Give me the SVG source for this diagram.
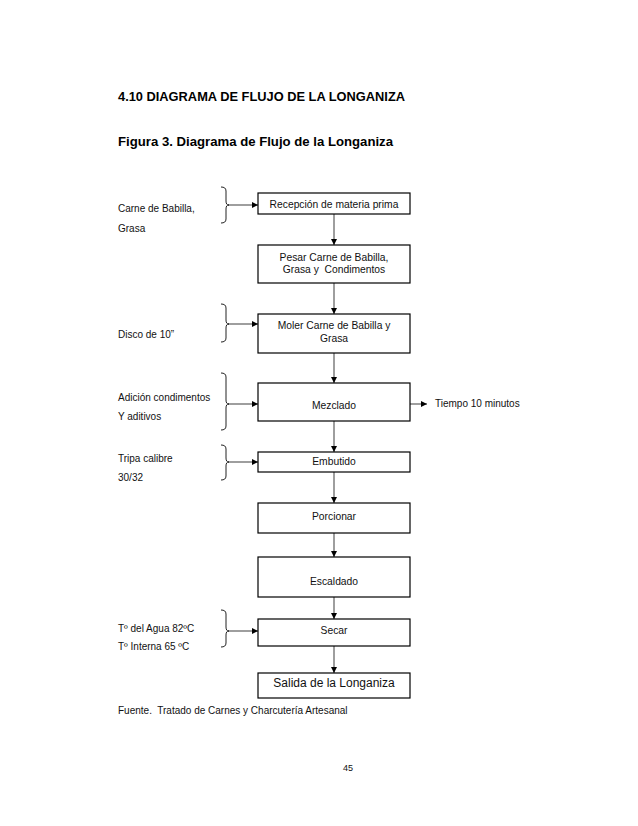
<svg xmlns="http://www.w3.org/2000/svg" width="638" height="826" viewBox="0 0 638 826">
<defs>
<marker id="ah" markerWidth="6" markerHeight="6" refX="6" refY="3" orient="auto" markerUnits="userSpaceOnUse">
<path d="M0,0 L6,3 L0,6 Z" fill="#000"/>
</marker>
<style>
.box{fill:#fff;stroke:#000;stroke-width:1.2}
.bt{font-family:"Liberation Sans",Arial,sans-serif;font-size:10.3px;fill:#111;text-anchor:middle;white-space:pre}
.lb{font-family:"Liberation Sans",Arial,sans-serif;font-size:10px;fill:#111;white-space:pre}
.hd{font-family:"Liberation Sans",Arial,sans-serif;font-size:12.3px;font-weight:bold;fill:#000}
.ln{fill:none;stroke:#6a6a6a;stroke-width:1.3}
.br{fill:none;stroke:#222;stroke-width:1}
</style>
</defs>
<rect width="638" height="826" fill="#fff"/>
<text class="hd" x="118" y="101" textLength="287" lengthAdjust="spacingAndGlyphs">4.10 DIAGRAMA DE FLUJO DE LA LONGANIZA</text>
<text class="hd" x="118" y="146" textLength="275" lengthAdjust="spacingAndGlyphs">Figura 3. Diagrama de Flujo de la Longaniza</text>

<g id="connectors">
<path class="ln" d="M334,214 V245" marker-end="url(#ah)"/>
<path class="ln" d="M334,283 V314" marker-end="url(#ah)"/>
<path class="ln" d="M334,353 V383" marker-end="url(#ah)"/>
<path class="ln" d="M334,421 V452" marker-end="url(#ah)"/>
<path class="ln" d="M334,472 V503" marker-end="url(#ah)"/>
<path class="ln" d="M334,533 V557" marker-end="url(#ah)"/>
<path class="ln" d="M334,597 V619" marker-end="url(#ah)"/>
<path class="ln" d="M334,646 V673" marker-end="url(#ah)"/>
<path class="ln" d="M228,205 H258" marker-end="url(#ah)"/>
<path class="ln" d="M228,324 H258" marker-end="url(#ah)"/>
<path class="ln" d="M228,404 H258" marker-end="url(#ah)"/>
<path class="ln" d="M228,462 H258" marker-end="url(#ah)"/>
<path class="ln" d="M228,631 H258" marker-end="url(#ah)"/>
<path class="ln" d="M410,404 H427" marker-end="url(#ah)"/>
<path class="br" d="M221,187 C224,187 226,188 226,191 L226,201 C226,204 227,205 229,205 C227,205 226,206 226,209 L226,219 C226,222 224,223 221,223"/>
<path class="br" d="M221,304 C224,304 226,305 226,308 L226,320 C226,323 227,324 229,324 C227,324 226,325 226,328 L226,338 C226,341 224,342 221,342"/>
<path class="br" d="M221,373 C224,373 226,374 226,377 L226,400 C226,403 227,404 229,404 C227,404 226,405 226,408 L226,426 C226,429 224,430 221,430"/>
<path class="br" d="M221,445 C224,445 226,446 226,449 L226,458 C226,461 227,462 229,462 C227,462 226,463 226,466 L226,476 C226,479 224,480 221,480"/>
<path class="br" d="M221,610 C224,610 226,611 226,614 L226,627 C226,630 227,631 229,631 C227,631 226,632 226,635 L226,643 C226,646 224,647 221,647"/>
</g>

<g id="n1"><rect class="box" x="258" y="193" width="152" height="21"/><text class="bt" x="334" y="208">Recepción de materia prima</text></g>
<g id="n2"><rect class="box" x="258" y="245" width="152" height="38"/><text class="bt" x="334" y="261">Pesar Carne de Babilla,</text><text class="bt" x="334" y="273">Grasa y  Condimentos</text></g>
<g id="n3"><rect class="box" x="258" y="314" width="152" height="39"/><text class="bt" x="334" y="329">Moler Carne de Babilla y</text><text class="bt" x="334" y="342">Grasa</text></g>
<g id="n4"><rect class="box" x="258" y="383" width="152" height="38"/><text class="bt" x="334" y="409">Mezclado</text></g>
<g id="n5"><rect class="box" x="258" y="452" width="152" height="20"/><text class="bt" x="334" y="465">Embutido</text></g>
<g id="n6"><rect class="box" x="258" y="503" width="152" height="30"/><text class="bt" x="334" y="520">Porcionar</text></g>
<g id="n7"><rect class="box" x="258" y="557" width="152" height="40"/><text class="bt" x="334" y="585">Escaldado</text></g>
<g id="n8"><rect class="box" x="258" y="619" width="152" height="27"/><text class="bt" x="334" y="634">Secar</text></g>
<g id="n9"><rect class="box" x="258" y="673" width="152" height="25"/><text class="bt" x="334" y="687" style="font-size:12px">Salida de la Longaniza</text></g>

<g id="in1"><text class="lb" x="118" y="212">Carne de Babilla,</text><text class="lb" x="118" y="232">Grasa</text></g>
<g id="in2"><text class="lb" x="118" y="338">Disco de 10”</text></g>
<g id="in3"><text class="lb" x="118" y="401">Adición condimentos</text><text class="lb" x="118" y="420">Y aditivos</text></g>
<g id="in4"><text class="lb" x="118" y="462">Tripa calibre</text><text class="lb" x="118" y="481">30/32</text></g>
<g id="in5"><text class="lb" x="118" y="632">Tº del Agua 82ºC</text><text class="lb" x="118" y="650">Tº Interna 65 ºC</text></g>
<g id="out1"><text class="lb" x="435" y="407">Tiempo 10 minutos</text></g>

<text class="lb" x="118" y="714">Fuente.  Tratado de Carnes y Charcutería Artesanal</text>
<text class="lb" x="348" y="771" text-anchor="middle" style="font-size:9px">45</text>
</svg>
